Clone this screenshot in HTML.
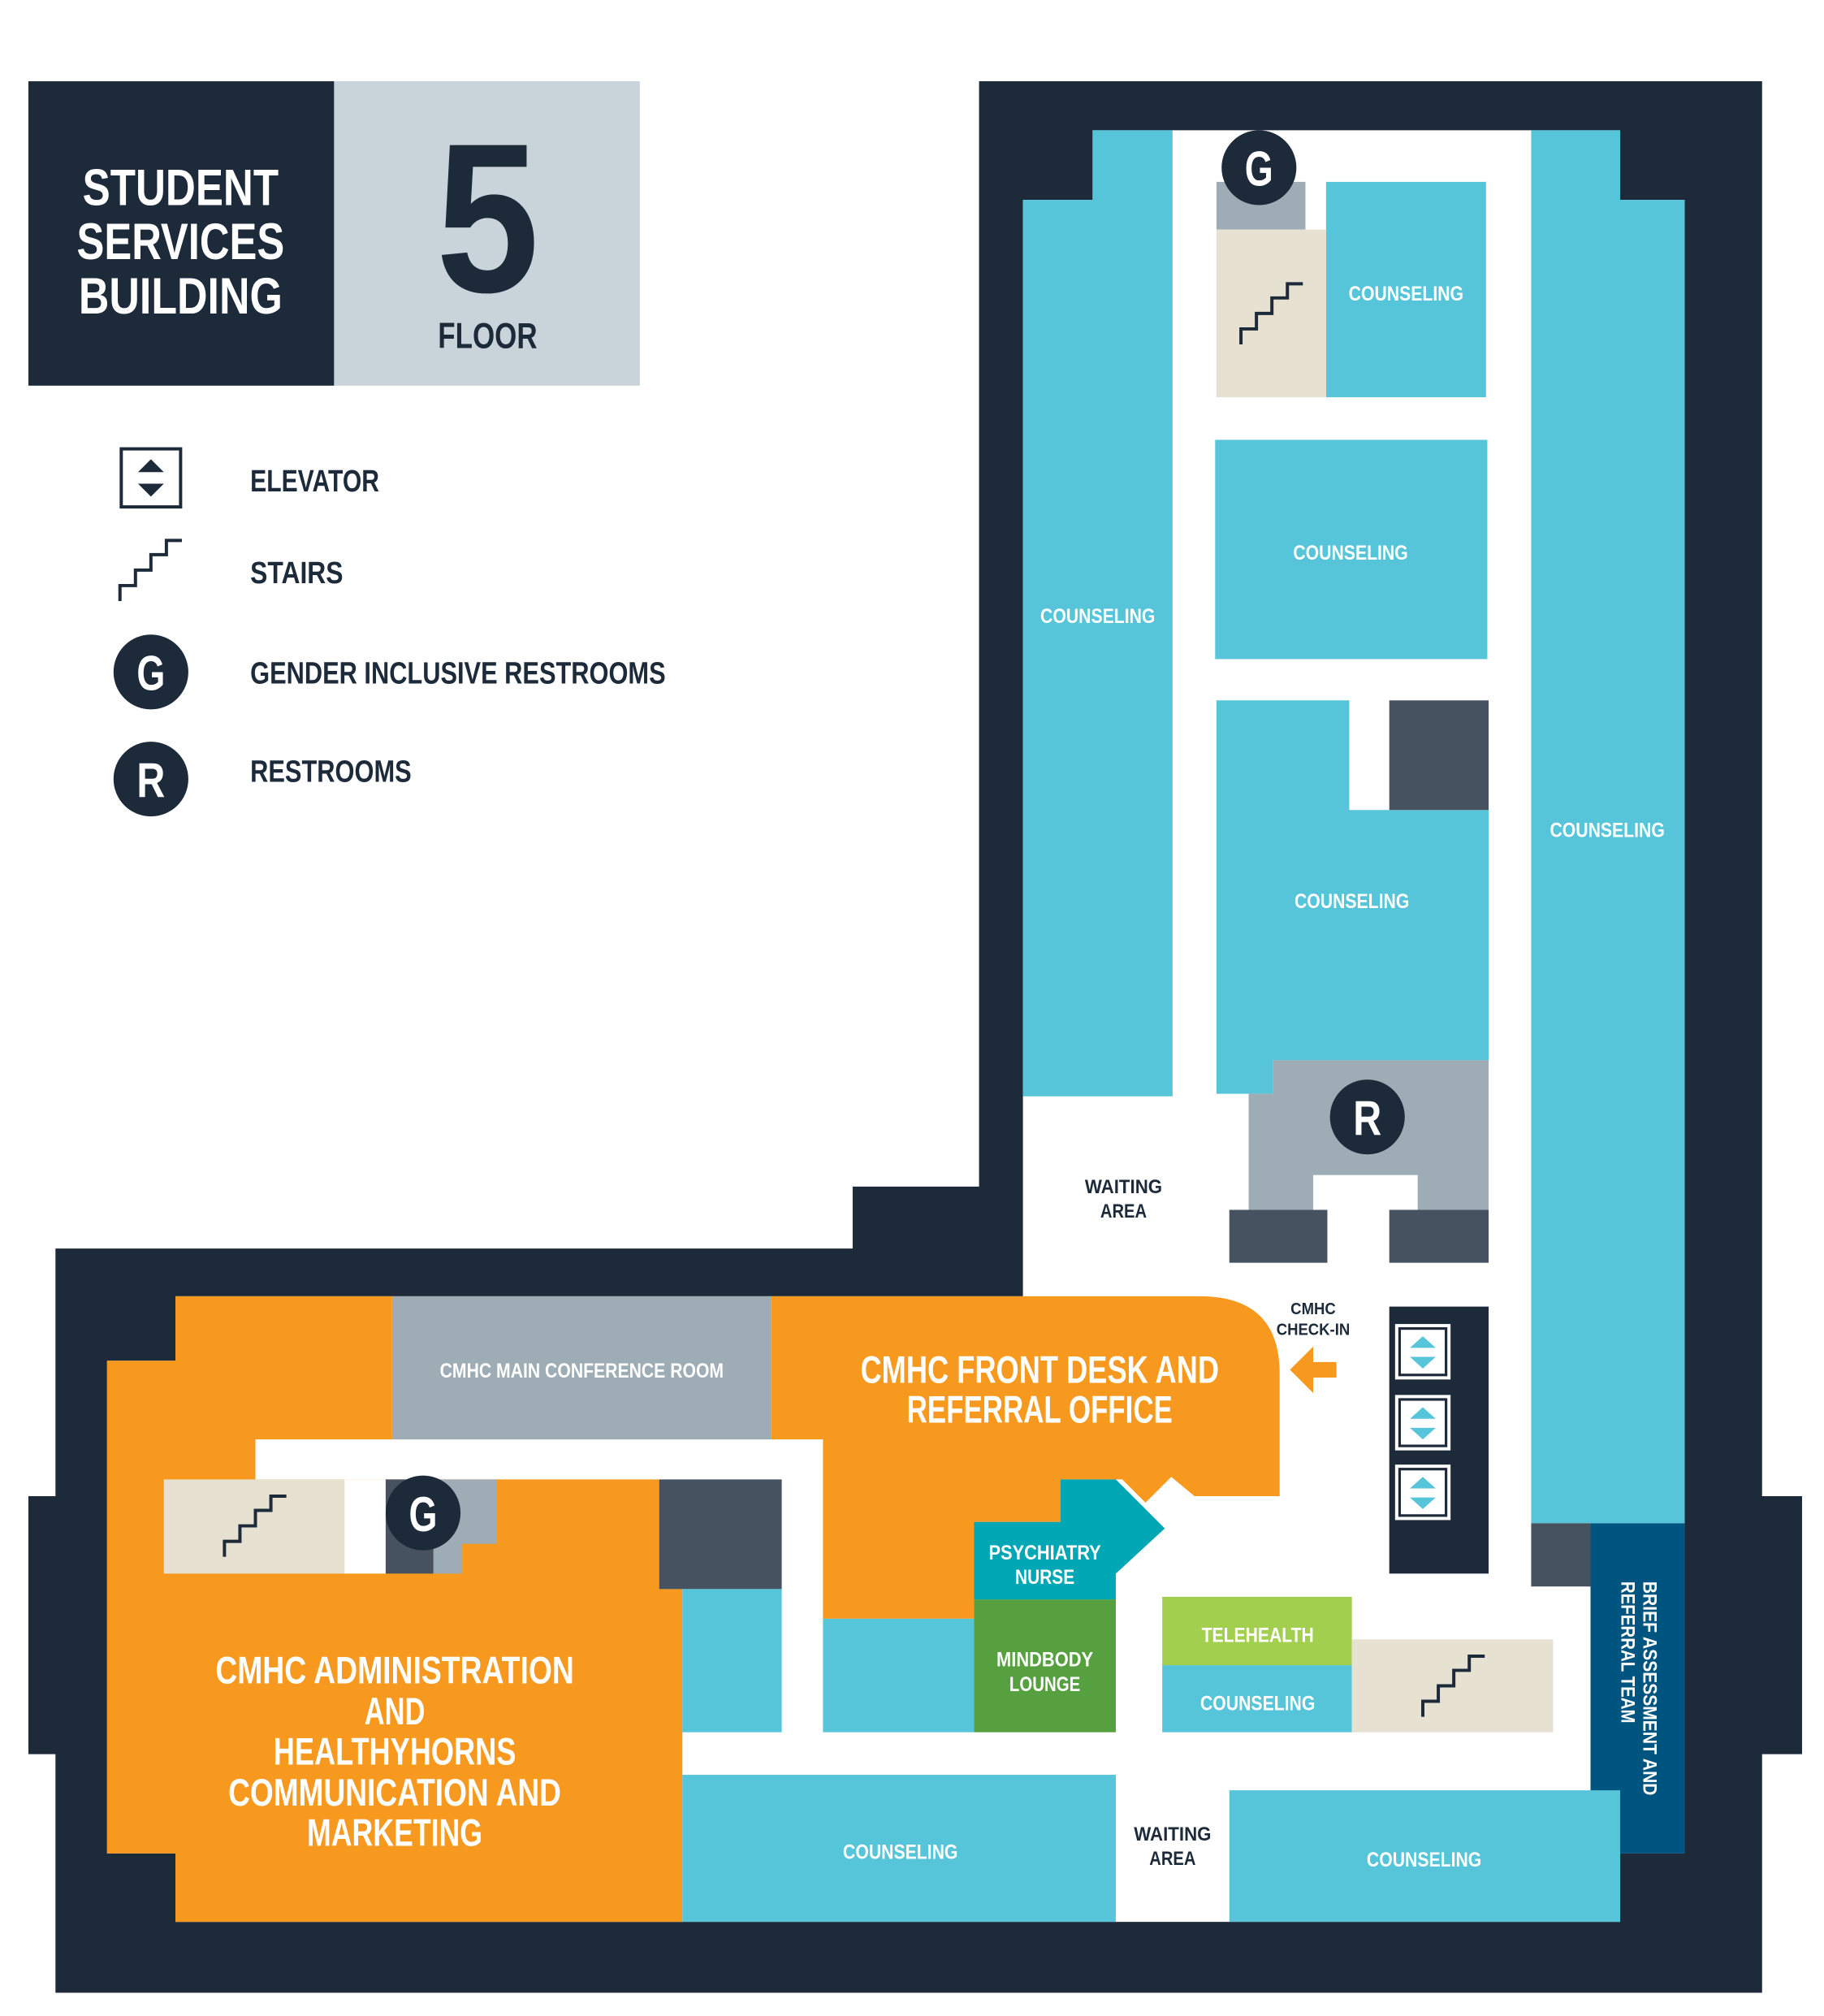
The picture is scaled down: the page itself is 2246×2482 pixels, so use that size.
<!DOCTYPE html>
<html><head><meta charset="utf-8"><style>
html,body{margin:0;padding:0;background:#fff;}
svg{display:block;}
text{font-family:"Liberation Sans Narrow","Liberation Sans",sans-serif;font-weight:bold;}
</style></head><body>
<svg width="2246" height="2482" viewBox="0 0 1414 1563" preserveAspectRatio="none" xmlns="http://www.w3.org/2000/svg">
<defs>
<g id="st"><path d="M0,47 v-12 h12 v-12 h12 v-12 h12 v-11 h12" fill="none" stroke="#1c2a3a" stroke-width="2.5"/></g>
<g id="el"><rect x="0" y="0" width="46" height="46" fill="#fff" stroke="#1c2a3a" stroke-width="3"/><rect x="4" y="4" width="38" height="38" fill="#1c2a3a"/><rect x="6" y="6" width="34" height="34" fill="#fff"/><path d="M13,20 L23,11 L33,20Z M13,27 L33,27 L23,36Z" fill="#56c5d9"/></g>
</defs>
<!-- header -->
<rect x="22" y="63" width="237" height="236" fill="#1c2a3a"/>
<rect x="259" y="63" width="237" height="236" fill="#c8d3da"/>
<g fill="#fff" font-size="40" text-anchor="middle" lengthAdjust="spacingAndGlyphs">
<text x="140" y="159" textLength="152" lengthAdjust="spacingAndGlyphs">STUDENT</text><text x="140" y="201" textLength="161" lengthAdjust="spacingAndGlyphs">SERVICES</text><text x="140" y="243" textLength="158" lengthAdjust="spacingAndGlyphs">BUILDING</text></g>
<text x="378" y="226" font-size="165" text-anchor="middle" fill="#1c2a3a" textLength="80" lengthAdjust="spacingAndGlyphs">5</text>
<text x="378" y="270" font-size="28" text-anchor="middle" fill="#1c2a3a" textLength="77" lengthAdjust="spacingAndGlyphs">FLOOR</text>
<!-- legend -->
<rect x="94" y="348" width="46" height="45" fill="#fff" stroke="#1c2a3a" stroke-width="2.5"/>
<path d="M107,366 L117,356 L127,366Z M107,375 L127,375 L117,385Z" fill="#1c2a3a"/>
<use href="#st" transform="translate(93,419)"/>
<circle cx="117" cy="521" r="29" fill="#1c2a3a"/><text x="117" y="535" font-size="38" fill="#fff" text-anchor="middle" textLength="22" lengthAdjust="spacingAndGlyphs">G</text>
<circle cx="117" cy="604" r="29" fill="#1c2a3a"/><text x="117" y="618" font-size="38" fill="#fff" text-anchor="middle" textLength="22" lengthAdjust="spacingAndGlyphs">R</text>
<g fill="#1c2a3a" font-size="24"><text x="194" y="381" textLength="100" lengthAdjust="spacingAndGlyphs">ELEVATOR</text><text x="194" y="452" textLength="72" lengthAdjust="spacingAndGlyphs">STAIRS</text><text x="194" y="530" textLength="322" lengthAdjust="spacingAndGlyphs">GENDER INCLUSIVE RESTROOMS</text><text x="194" y="606" textLength="125" lengthAdjust="spacingAndGlyphs">RESTROOMS</text></g>
<!-- building outline -->
<polygon fill="#1c2a3a" points="759,63 1366,63 1366,1160 1397,1160 1397,1360 1366,1360 1366,1545 43,1545 43,1360 22,1360 22,1160 43,1160 43,968 661,968 661,920 759,920"/>
<polygon fill="#fff" points="847,101 1256,101 1256,155 1306,155 1306,1437 1256,1437 1256,1490 136,1490 136,1437 83,1437 83,1055 136,1055 136,1005 793,1005 793,155 847,155"/>
<!-- tower rooms -->
<g fill="#56c5d9">
<polygon points="847,101 909,101 909,850 793,850 793,155 847,155"/>
<polygon points="1187,101 1256,101 1256,155 1306,155 1306,1181 1187,1181"/>
<rect x="1028" y="141" width="124" height="167"/>
<rect x="942" y="341" width="211" height="170"/>
<polygon points="943,543 1046,543 1046,628 1154,628 1154,822 987,822 987,848 943,848"/>
</g>
<rect x="943" y="141" width="69" height="37" fill="#9eadb5"/>
<rect x="943" y="178" width="85" height="130" fill="#e6e1d1"/>
<use href="#st" transform="translate(962,220)"/>
<circle cx="976" cy="130" r="29" fill="#1c2a3a"/><text x="976" y="144" font-size="38" fill="#fff" text-anchor="middle" textLength="22" lengthAdjust="spacingAndGlyphs">G</text>
<rect x="1077" y="543" width="77" height="85" fill="#475260"/>
<polygon fill="#9eadb5" points="987,822 1154,822 1154,938 1099,938 1099,911 1018,911 1018,938 968,938 968,848 987,848"/>
<rect x="953" y="938" width="76" height="41" fill="#475260"/>
<rect x="1077" y="938" width="77" height="41" fill="#475260"/>
<circle cx="1060" cy="866" r="29" fill="#1c2a3a"/><text x="1060" y="880" font-size="38" fill="#fff" text-anchor="middle" textLength="22" lengthAdjust="spacingAndGlyphs">R</text>
<g fill="#fff" font-size="16" text-anchor="middle">
<text x="851" y="483" textLength="89" lengthAdjust="spacingAndGlyphs">COUNSELING</text><text x="1246" y="649" textLength="89" lengthAdjust="spacingAndGlyphs">COUNSELING</text><text x="1090" y="233" textLength="89" lengthAdjust="spacingAndGlyphs">COUNSELING</text><text x="1047" y="434" textLength="89" lengthAdjust="spacingAndGlyphs">COUNSELING</text><text x="1048" y="704" textLength="89" lengthAdjust="spacingAndGlyphs">COUNSELING</text></g>
<g fill="#1c2a3a" font-size="15" text-anchor="middle"><text x="871" y="925" textLength="60" lengthAdjust="spacingAndGlyphs">WAITING</text><text x="871" y="944" textLength="36" lengthAdjust="spacingAndGlyphs">AREA</text>
<text x="909" y="1427" textLength="60" lengthAdjust="spacingAndGlyphs">WAITING</text><text x="909" y="1446" textLength="36" lengthAdjust="spacingAndGlyphs">AREA</text></g>
<g fill="#1c2a3a" font-size="13" text-anchor="middle"><text x="1018" y="1019" textLength="35" lengthAdjust="spacingAndGlyphs">CMHC</text><text x="1018" y="1035" textLength="57" lengthAdjust="spacingAndGlyphs">CHECK-IN</text></g>
<polygon fill="#f7981f" points="1000,1062 1018,1044 1018,1056 1036,1056 1036,1068 1018,1068 1018,1080"/>
<!-- elevators -->
<rect x="1077" y="1013" width="77" height="207" fill="#1c2a3a"/>
<use href="#el" transform="translate(1080,1025)"/>
<use href="#el" transform="translate(1080,1080)"/>
<use href="#el" transform="translate(1080,1134)"/>
<rect x="1187" y="1181" width="46" height="49" fill="#475260"/>
<rect x="1233" y="1181" width="73" height="256" fill="#005580"/>
<g transform="translate(1270,1309) rotate(90)" fill="#fff" font-size="15" text-anchor="middle"><text x="0" y="-4" textLength="166" lengthAdjust="spacingAndGlyphs">BRIEF ASSESSMENT AND</text><text x="-28" y="13" textLength="110" lengthAdjust="spacingAndGlyphs">REFERRAL TEAM</text></g>
<!-- lower -->
<path fill="#f7981f" d="M598,1005 L930,1005 Q992,1005 992,1065 L992,1160 L926,1160 L908,1145 L888,1165 L870,1147 L822,1147 L822,1180 L755,1180 L755,1255 L638,1255 L638,1116 L598,1116Z"/>
<rect x="304" y="1005" width="294" height="111" fill="#9eadb5"/>
<text x="451" y="1068" font-size="16" fill="#fff" text-anchor="middle" textLength="220" lengthAdjust="spacingAndGlyphs">CMHC MAIN CONFERENCE ROOM</text>
<g fill="#fff" font-size="30" text-anchor="middle"><text x="806" y="1072" textLength="278" lengthAdjust="spacingAndGlyphs">CMHC FRONT DESK AND</text><text x="806" y="1103" textLength="206" lengthAdjust="spacingAndGlyphs">REFERRAL OFFICE</text></g>
<polygon fill="#f7981f" points="136,1005 304,1005 304,1116 198,1116 198,1147 511,1147 511,1232 529,1232 529,1490 136,1490 136,1437 83,1437 83,1055 136,1055"/>
<rect x="267" y="1147" width="32" height="73" fill="#fff"/>
<rect x="127" y="1147" width="140" height="73" fill="#e6e1d1"/>
<use href="#st" transform="translate(174,1160)"/>
<rect x="299" y="1147" width="37" height="73" fill="#475260"/>
<polygon fill="#9eadb5" points="336,1147 385,1147 385,1197 358,1197 358,1220 336,1220"/>
<circle cx="328" cy="1173" r="29" fill="#1c2a3a"/><text x="328" y="1187" font-size="38" fill="#fff" text-anchor="middle" textLength="22" lengthAdjust="spacingAndGlyphs">G</text>
<rect x="511" y="1147" width="95" height="85" fill="#475260"/>
<g fill="#56c5d9"><rect x="529" y="1232" width="77" height="111"/><rect x="638" y="1255" width="117" height="88"/>
<rect x="529" y="1376" width="336" height="114"/><rect x="953" y="1388" width="303" height="102"/><rect x="901" y="1291" width="147" height="52"/></g>
<rect x="755" y="1240" width="110" height="103" fill="#56a03f"/>
<polygon fill="#02a7b5" points="822,1147 865,1147 903,1185 865,1220 865,1240 755,1240 755,1180 822,1180"/>
<rect x="901" y="1238" width="147" height="53" fill="#a3cf4f"/>
<rect x="1048" y="1271" width="156" height="72" fill="#e6e1d1"/>
<use href="#st" transform="translate(1103,1284)"/>
<g fill="#fff" font-size="16" text-anchor="middle">
<text x="810" y="1209" textLength="87" lengthAdjust="spacingAndGlyphs">PSYCHIATRY</text><text x="810" y="1228" textLength="46" lengthAdjust="spacingAndGlyphs">NURSE</text>
<text x="810" y="1292" textLength="75" lengthAdjust="spacingAndGlyphs">MINDBODY</text><text x="810" y="1311" textLength="55" lengthAdjust="spacingAndGlyphs">LOUNGE</text>
<text x="975" y="1273" textLength="87" lengthAdjust="spacingAndGlyphs">TELEHEALTH</text><text x="975" y="1326" textLength="89" lengthAdjust="spacingAndGlyphs">COUNSELING</text>
<text x="698" y="1441" textLength="89" lengthAdjust="spacingAndGlyphs">COUNSELING</text><text x="1104" y="1447" textLength="89" lengthAdjust="spacingAndGlyphs">COUNSELING</text></g>
<g fill="#fff" font-size="30" text-anchor="middle"><text x="306" y="1305" textLength="278" lengthAdjust="spacingAndGlyphs">CMHC ADMINISTRATION</text><text x="306" y="1337" textLength="47" lengthAdjust="spacingAndGlyphs">AND</text><text x="306" y="1368" textLength="188" lengthAdjust="spacingAndGlyphs">HEALTHYHORNS</text><text x="306" y="1400" textLength="258" lengthAdjust="spacingAndGlyphs">COMMUNICATION AND</text><text x="306" y="1431" textLength="136" lengthAdjust="spacingAndGlyphs">MARKETING</text></g>
</svg>
</body></html>
